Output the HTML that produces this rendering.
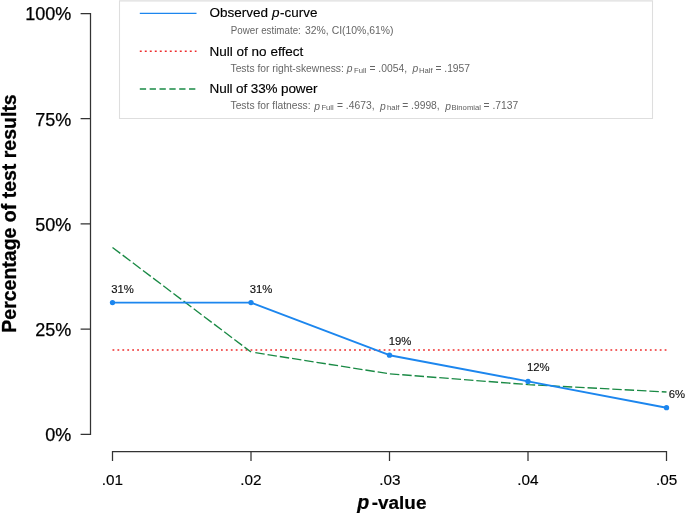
<!DOCTYPE html>
<html><head><meta charset="utf-8">
<style>
html,body{margin:0;padding:0;background:#fff;}
body{width:685px;height:514px;overflow:hidden;}
svg{display:block;font-family:"Liberation Sans",Arial,sans-serif;}
</style></head><body>
<svg width="685" height="514" viewBox="0 0 685 514">
<rect width="685" height="514" fill="#fff"/>
<!-- axes -->
<g stroke="#333" stroke-width="1.25" fill="none">
<path d="M80.6 13.5H90.5V434.25H80.6M80.6 118.7H90.5M80.6 223.9H90.5M80.6 329.05H90.5"/>
<path d="M112.5 461V451.5H666.5V461M251 451.5V461M389.5 451.5V461M528 451.5V461"/>
</g>
<g font-size="18" fill="#000" stroke="#000" stroke-width="0.25" text-anchor="end">
<text x="71.2" y="20.3">100%</text>
<text x="71.2" y="125.5">75%</text>
<text x="71.2" y="230.8">50%</text>
<text x="71.2" y="336">25%</text>
<text x="71.2" y="441.1">0%</text>
</g>
<g font-size="15.3" fill="#000" stroke="#000" stroke-width="0.15" text-anchor="middle">
<text x="112.5" y="484.7">.01</text>
<text x="251" y="484.7">.02</text>
<text x="389.8" y="484.7">.03</text>
<text x="528" y="484.7">.04</text>
<text x="666.6" y="484.7">.05</text>
</g>
<g font-size="19.1" font-weight="bold" fill="#000" stroke="#000" stroke-width="0.2"><text x="357.2" y="509.2" font-size="19.6" font-style="italic">p</text><text x="371.8" y="509.2" textLength="54.6" lengthAdjust="spacingAndGlyphs">-value</text></g>
<text transform="translate(15.6,213.5) rotate(-90)" font-size="19.5" font-weight="bold" text-anchor="middle" fill="#000" stroke="#000" stroke-width="0.3">Percentage of test results</text>
<!-- curves -->
<path d="M112.5 350H667" stroke="#EE2C2C" stroke-width="1.55" stroke-dasharray="1.8 3.13" fill="none"/>
<path d="M112.5 247.5L251 352" stroke="#1a8a45" stroke-width="1.35" stroke-dasharray="9.8 2.92" fill="none"/>
<path d="M255.3 352.68L389.5 373.8L528 384.6L666.5 392" stroke="#1a8a45" stroke-width="1.35" stroke-dasharray="9.47 2.915" fill="none"/>
<path d="M112.5 302.6L251 302.6L389.5 355.2L528 381.4L666.5 407.7" stroke="#1C86EE" stroke-width="1.95" fill="none" stroke-linejoin="round"/>
<g fill="#1C86EE">
<circle cx="112.5" cy="302.6" r="2.65"/><circle cx="251" cy="302.6" r="2.65"/><circle cx="389.5" cy="355.2" r="2.65"/><circle cx="528" cy="381.4" r="2.65"/><circle cx="666.5" cy="407.7" r="2.65"/>
</g>
<g font-size="11.3" fill="#111" stroke="#111" stroke-width="0.15" text-anchor="middle">
<text x="122.5" y="292.5">31%</text>
<text x="261" y="292.5">31%</text>
<text x="400" y="345">19%</text>
<text x="538.3" y="371.2">12%</text>
<text x="676.8" y="397.7">6%</text>
</g>
<!-- legend -->
<path d="M119.5 0.85H652.5V118.5H119.5Z" fill="#fff" stroke="#dedede" stroke-width="1.1"/>
<path d="M139.8 13.4H196.5" stroke="#1C86EE" stroke-width="1.3" fill="none"/>
<path d="M139.8 51.3H196.5" stroke="#EE2C2C" stroke-width="1.4" stroke-dasharray="1.9 3.1" fill="none"/>
<path d="M139.8 89H196.5" stroke="#1a8a45" stroke-width="1.4" stroke-dasharray="6.3 3.55" fill="none"/>
<g font-size="13.5" fill="#000" stroke="#000" stroke-width="0.15">
<text x="209.6" y="17.3">Observed <tspan font-style="italic">p</tspan><tspan dx="0.7" textLength="37.3" lengthAdjust="spacingAndGlyphs">-curve</tspan></text>
<text x="209.6" y="56.2">Null of no effect</text>
<text x="209.6" y="92.9" textLength="107.8" lengthAdjust="spacing">Null of 33% power</text>
</g>
<g font-size="10.3" fill="#666">
<text x="230.8" y="33.8" font-size="10.1" textLength="70" lengthAdjust="spacingAndGlyphs">Power estimate:</text><text x="305" y="33.8" font-size="10.2" textLength="88.6" lengthAdjust="spacingAndGlyphs">32%, CI(10%,61%)</text>
<text x="230.5" y="71.6">Tests for right-skewness:</text>
<text x="346.8" y="72" font-style="italic">p</text>
<text x="354" y="72.9" font-size="7.7" fill="#5c5c5c">Full</text>
<text x="369.5" y="71.6">= .0054,</text>
<text x="412.5" y="72" font-style="italic">p</text>
<text x="419" y="72.9" font-size="7.7" fill="#5c5c5c">Half</text>
<text x="435.4" y="71.6">= .1957</text>
<text x="230.5" y="109.1">Tests for flatness:</text>
<text x="314.2" y="109.5" font-style="italic">p</text>
<text x="321.4" y="110.4" font-size="7.7" fill="#5c5c5c">Full</text>
<text x="337" y="109.1">= .4673,</text>
<text x="380" y="109.5" font-style="italic">p</text>
<text x="387.1" y="110.4" font-size="7.7" fill="#5c5c5c">half</text>
<text x="402.2" y="109.1">= .9998,</text>
<text x="445.3" y="109.5" font-style="italic">p</text>
<text x="451.5" y="110.4" font-size="7.7" fill="#5c5c5c">Binomial</text>
<text x="483.6" y="109.1">= .7137</text>
</g>
</svg>
</body></html>
